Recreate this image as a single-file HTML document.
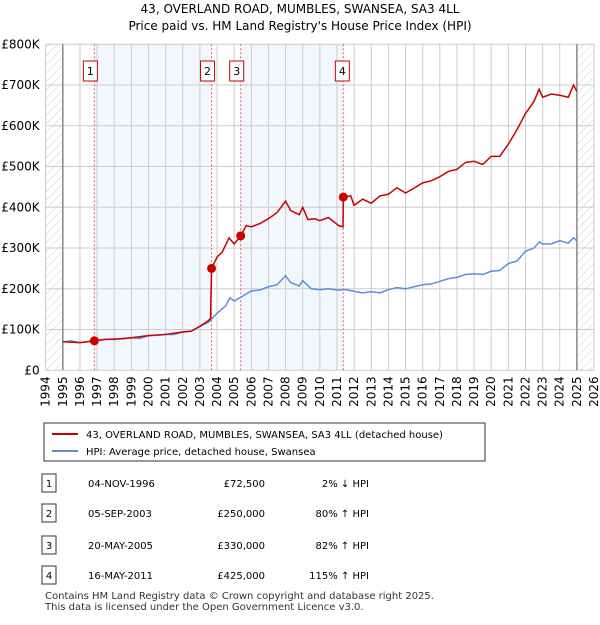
<!DOCTYPE html>
<html><head><meta charset="utf-8"><style>
body{margin:0;background:#fff;font-family:"Liberation Sans","DejaVu Sans",sans-serif;}
svg text{font-family:"DejaVu Sans","Liberation Sans",sans-serif;}
</style></head><body>
<svg id="chart" width="600" height="620" xmlns="http://www.w3.org/2000/svg">
<defs>
<pattern id="hatch" patternUnits="userSpaceOnUse" width="6" height="6" patternTransform="rotate(45)">
<line x1="0" y1="0" x2="0" y2="6" stroke="#ccc" stroke-width="1"/></pattern>
</defs>
<text x="300" y="13" text-anchor="middle" font-size="12">43, OVERLAND ROAD, MUMBLES, SWANSEA, SA3 4LL</text>
<text x="300" y="30" text-anchor="middle" font-size="12">Price paid vs. HM Land Registry's House Price Index (HPI)</text>
<g id="plot"></g>
<g>
<rect x="44" y="423" width="441" height="38" fill="#fff" stroke="#333"/>
<line x1="52" y1="434" x2="78" y2="434" stroke="#cc0000" stroke-width="2"/>
<text x="86" y="438" font-size="10">43, OVERLAND ROAD, MUMBLES, SWANSEA, SA3 4LL (detached house)</text>
<line x1="52" y1="451" x2="78" y2="451" stroke="#5b8fd4" stroke-width="2"/>
<text x="86" y="455" font-size="10">HPI: Average price, detached house, Swansea</text>
</g>
<g id="table" font-size="10"></g>
<text x="45" y="599" font-size="10" fill="#333">Contains HM Land Registry data © Crown copyright and database right 2025.</text>
<text x="45" y="610" font-size="10" fill="#333">This data is licensed under the Open Government Licence v3.0.</text>
</svg>
<script>
const hpiX=[1995,1995.5,1996,1996.5,1997,1997.5,1998,1998.5,1999,1999.5,2000,2000.5,2001,2001.5,2002,2002.5,2003,2003.5,2004,2004.5,2004.75,2005,2005.5,2006,2006.5,2007,2007.5,2008,2008.3,2008.8,2009,2009.5,2010,2010.5,2011,2011.5,2012,2012.5,2013,2013.5,2014,2014.5,2015,2015.5,2016,2016.5,2017,2017.5,2018,2018.5,2019,2019.5,2020,2020.5,2021,2021.5,2022,2022.5,2022.8,2023,2023.5,2024,2024.5,2024.8,2025];
const hpiY=[70,72,68,70,74,76,77,77,80,78,85,86,88,88,94,96,108,118,140,158,178,170,182,195,197,205,210,232,215,207,220,200,198,200,197,198,194,190,193,190,198,203,200,205,210,212,218,225,228,235,237,235,243,245,262,268,292,300,315,310,310,318,312,325,318];
const redX=[1995,1996,1996.84,1997.5,1998,1999,2000,2001,2002,2002.5,2003,2003.5,2003.62,2003.68,2004,2004.3,2004.7,2005,2005.38,2005.7,2006,2006.5,2007,2007.5,2008,2008.3,2008.8,2009,2009.3,2009.7,2010,2010.5,2011.1,2011.35,2011.37,2011.8,2012,2012.5,2013,2013.5,2014,2014.5,2015,2015.5,2016,2016.5,2017,2017.5,2018,2018.5,2019,2019.5,2020,2020.5,2021,2021.5,2022,2022.5,2022.8,2023,2023.5,2024,2024.5,2024.8,2025];
const redY=[70,68,72.5,76,76,80,85,88,94,96,108,122,128,250,278,290,325,310,330,355,352,360,372,387,415,392,382,400,370,372,367,375,355,352,425,428,405,420,410,428,432,448,435,447,460,465,475,488,493,510,513,505,525,525,555,590,630,660,690,670,678,675,670,700,685];
const saleX=[1996.84,2003.68,2005.38,2011.37];
const saleY=[72.5,250,330,425];
const saleLabels=["1","2","3","4"];
const saleDates=["04-NOV-1996","05-SEP-2003","20-MAY-2005","16-MAY-2011"];
const salePrices=["£72,500","£250,000","£330,000","£425,000"];
const saleHpi=["2% ↓ HPI","80% ↑ HPI","82% ↑ HPI","115% ↑ HPI"];
const yTicks=[0,100,200,300,400,500,600,700,800];
const yTickLabels=["£0","£100K","£200K","£300K","£400K","£500K","£600K","£700K","£800K"];
const xTicks=[1994,1995,1996,1997,1998,1999,2000,2001,2002,2003,2004,2005,2006,2007,2008,2009,2010,2011,2012,2013,2014,2015,2016,2017,2018,2019,2020,2021,2022,2023,2024,2025,2026];

const NS="http://www.w3.org/2000/svg";
const L=45.7,R=594,T=44.3,B=370.3;
const xs=v=>L+(v-1994)/32*(R-L);
const ys=v=>B-v/800*(B-T);
const plot=document.getElementById('plot');
function mk(tag,at,parent){const e=document.createElementNS(NS,tag);for(const k in at)e.setAttribute(k,at[k]);(parent||plot).appendChild(e);return e;}
let e;
e=mk('rect',{x:L,y:T,width:R-L,height:B-T,fill:'#fff'});


e=mk('rect',{x:xs(saleX[0]),y:T,width:xs(saleX[1])-xs(saleX[0]),height:B-T,fill:'#f2f6fd'});


e=mk('rect',{x:xs(saleX[2]),y:T,width:xs(saleX[3])-xs(saleX[2]),height:B-T,fill:'#f2f6fd'});


e=mk('rect',{x:xs(1994),y:T,width:xs(1995)-xs(1994),height:B-T,fill:'url(#hatch)'});


e=mk('rect',{x:xs(2025),y:T,width:xs(2026)-xs(2025),height:B-T,fill:'url(#hatch)'});


xTicks.forEach(t=>{
  e=mk('line',{x1:xs(t),x2:xs(t),y1:T,y2:B,stroke:'#ccc','stroke-width':1});
  
  
  const x=xs(t)+4,y=B+6;
  e=mk('text',{x:x,y:y,'font-size':12,'text-anchor':'end',transform:`rotate(-90 ${x} ${y})`});
  e.textContent=t;
  
  
});
yTicks.forEach((t,i)=>{
  e=mk('line',{x1:L,x2:R,y1:ys(t),y2:ys(t),stroke:'#ccc','stroke-width':1});
  
  
  e=mk('text',{x:L-6,y:ys(t)+4,'font-size':12,'text-anchor':'end'});
  e.textContent=yTickLabels[i];
  
  
});
[1995,2025].forEach(t=>{
  e=mk('line',{x1:xs(t),x2:xs(t),y1:T,y2:B,stroke:'#888','stroke-width':1.5});
  
  
});
saleX.forEach((s,i)=>{
  e=mk('line',{x1:xs(s),x2:xs(s),y1:T,y2:B,stroke:'#f06060','stroke-width':1,'stroke-dasharray':'2,2'});
  
  
  const cx=i==3?xs(s)-1:xs(s)-4;
  e=mk('rect',{x:cx-7,y:61,width:14,height:20,fill:'#fff',stroke:'#cc0000'});
  
  
  e=mk('text',{x:cx,y:75,'font-size':11,'text-anchor':'middle'});
  e.textContent=saleLabels[i];
  
  
});
e=mk('polyline',{points:hpiX.map((x,i)=>xs(x)+','+ys(hpiY[i])).join(' '),fill:'none',stroke:'#5b8fd4','stroke-width':1.5});


e=mk('polyline',{points:redX.map((x,i)=>xs(x)+','+ys(redY[i])).join(' '),fill:'none',stroke:'#cc0000','stroke-width':1.5});


saleX.forEach((s,i)=>{
  e=mk('circle',{cx:xs(s),cy:ys(saleY[i]),r:4.5,fill:'#cc0000'});
  
  
});
const tb=document.getElementById('table');
const rowY=[483,513,545,575];
saleLabels.forEach((l,i)=>{
  const y=rowY[i];
  e=mk('rect',{x:42,y:y-9,width:14,height:18,fill:'#fff',stroke:'#333'},tb);
  
  
  e=mk('text',{x:49,y:y+4,'text-anchor':'middle'},tb);e.textContent=l;
  
  
  e=mk('text',{x:88,y:y+4},tb);e.textContent=saleDates[i];
  
  
  e=mk('text',{x:265,y:y+4,'text-anchor':'end'},tb);e.textContent=salePrices[i];
  
  
  e=mk('text',{x:369,y:y+4,'text-anchor':'end'},tb);e.textContent=saleHpi[i];
  
  
});
</script>
</body></html>
